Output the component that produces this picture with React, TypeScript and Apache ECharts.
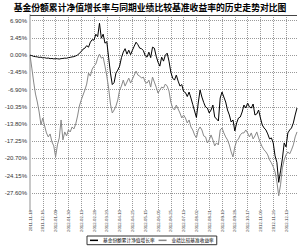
import React, { useEffect, useRef } from 'react';
import * as echarts from 'echarts';

const TITLE = '基金份额累计净值增长率与同期业绩比较基准收益率的历史走势对比图';
const SERIES_NAMES = ['基金份额累计净值增长率', '业绩比较基准收益率'];

// tick labels on the date axis, one every 14 trading days
const X_TICK_LABELS = [
  '2011-11-18', '2011-12-16', '2012-01-09', '2012-01-30', '2012-02-13', '2012-02-28',
  '2012-03-20', '2012-04-10', '2012-04-25', '2012-05-15', '2012-06-05', '2012-06-25',
  '2012-07-13', '2012-08-02', '2012-08-21', '2012-09-10', '2012-09-28', '2012-10-17',
  '2012-11-06', '2012-11-26', '2012-12-13',
];
const TRADING_DAYS_PER_TICK = 14;
const DAYS_PER_POINT = 2; // each value below is sampled every 2 trading days
const LAST_DAY = 292;

// value-axis tick labels (%)
const Y_TICKS = [-27.6, -24.15, -20.7, -17.25, -13.8, -10.35, -6.9, -3.45, 0, 3.45, 6.9];
const Y_MIN = -31.05;
const Y_MAX = 8.05;
const Y_INTERVAL = 3.45;

// 基金份额累计净值增长率 (%)
const fundGrowth = [
  0, -0.10, -0.25, -0.30, -0.35, -0.45, -0.40, -0.55, -0.50, -0.62,
  -0.58, -0.70, -0.66, -0.75, -0.70, -0.72, -0.78, -0.70, -0.66, -0.60,
  -0.62, -0.50, -0.45, -0.35, -0.30, -0.15, 0.00, 0.40, 0.70, 1.20,
  1.40, 1.90, 1.60, 2.60, 3.10, 3.00, 4.20, 3.70, 6.40, 3.40,
  4.20, 2.40, 2.70, -0.50, -3.60, -5.90, -5.50, -3.60, -3.00, -2.20,
  -0.50, 0.60, 1.30, 0.20, 1.00, 0.10, 1.00, 1.80, 2.60, 2.10,
  1.40, 1.30, 0.90, -0.10, -0.40, 0.60, -0.50, 1.60, 1.40, -0.20,
  -1.40, -2.20, -0.40, -1.20, 0.00, 0.40, -1.20, -3.40, -4.60, -5.00,
  -4.00, -5.20, -6.20, -5.90, -7.30, -7.50, -8.30, -7.40, -8.60, -9.90,
  -11.20, -12.50, -9.60, -7.00, -8.40, -9.50, -10.40, -10.60, -11.60, -11.00,
  -10.00, -12.40, -12.80, -13.20, -8.60, -7.40, -8.40, -9.40, -11.00, -12.00,
  -13.40, -13.00, -15.20, -13.60, -12.60, -12.40, -11.40, -10.00, -10.60, -9.60,
  -10.40, -10.60, -9.80, -12.00, -11.80, -11.00, -12.60, -14.00, -14.60, -15.00,
  -15.80, -16.80, -16.60, -17.60, -20.20, -21.50, -25.50, -23.20, -20.80, -17.60,
  -18.40, -15.60, -15.00, -14.60, -13.60, -12.00, -10.60,
];

// 业绩比较基准收益率 (%)
const benchmarkReturn = [
  0, -2.6, -5.4, -7.8, -9.4, -11.4, -14.0, -12.6, -14.2, -15.6,
  -16.4, -15.8, -17.4, -18.2, -20.4, -18.0, -16.6, -13.0, -17.0, -15.4,
  -16.2, -15.0, -15.4, -14.4, -14.8, -13.8, -12.2, -10.2, -9.0, -8.0,
  -7.0, -5.8, -3.6, -4.2, -2.8, -2.2, -1.8, -0.6, 0.2, -0.6,
  -0.4, -2.2, -4.2, -6.6, -9.8, -11.6, -11.0, -10.2, -9.0, -7.0,
  -6.2, -5.0, -6.2, -5.4, -4.6, -5.6, -4.8, -4.0, -3.2, -4.0,
  -4.2, -4.6, -4.4, -5.4, -5.6, -5.0, -6.4, -4.4, -5.4, -6.4,
  -7.6, -7.0, -6.4, -6.6, -5.8, -6.2, -7.2, -9.4, -10.6, -11.0,
  -10.0, -10.8, -11.6, -12.6, -12.0, -12.6, -13.6, -13.0, -14.4, -15.0,
  -16.0, -16.6, -15.0, -14.4, -15.0, -16.2, -16.4, -17.6, -17.0, -16.0,
  -17.0, -18.2, -17.6, -18.0, -15.0, -14.6, -15.6, -16.4, -17.0, -18.0,
  -19.4, -20.4, -18.4, -17.2, -16.8, -16.0, -15.6, -15.6, -15.0, -15.6,
  -16.4, -15.6, -16.8, -16.2, -15.4, -16.6, -17.6, -18.4, -19.0, -19.4,
  -20.0, -21.0, -21.6, -22.4, -23.4, -25.4, -28.2, -26.0, -22.6, -21.0,
  -20.0, -19.4, -19.8, -19.0, -18.0, -16.4, -15.4,
];

const gridLine = { type: 'dotted', color: '#9a9a9a', width: 1 };
const pct = (v: number) => v.toFixed(2) + '%';
const yLabelText = { fontSize: 6, color: '#333', fontFamily: 'Liberation Sans' };

export default function App() {
  const ref = useRef<HTMLDivElement>(null);

  useEffect(() => {
    if (!ref.current) return;
    const chart = echarts.init(ref.current, null, { renderer: 'svg' });
    const topTick = Y_TICKS[Y_TICKS.length - 1];
    chart.setOption({
      animation: false,
      backgroundColor: '#ffffff',
      title: {
        text: TITLE,
        left: 'center',
        top: 3,
        padding: 0,
        textStyle: { fontSize: 8.8, fontWeight: 'bold', color: '#000', fontFamily: 'Noto Sans CJK SC' },
      },
      legend: {
        data: SERIES_NAMES,
        left: 87,
        top: 236,
        padding: [2, 3],
        itemGap: 4,
        itemWidth: 8,
        itemHeight: 1.5,
        icon: 'rect',
        borderColor: '#333',
        borderWidth: 1,
        backgroundColor: '#fff',
        textStyle: { fontSize: 4.7, color: '#000', fontFamily: 'Noto Sans CJK SC' },
      },
      grid: { left: 30, right: 3, top: 15, bottom: 37, containLabel: false },
      xAxis: {
        type: 'value',
        min: 0,
        max: LAST_DAY,
        interval: TRADING_DAYS_PER_TICK,
        axisLine: { show: false, onZero: false },
        axisTick: { show: false },
        splitLine: { show: true, showMinLine: false, showMaxLine: false, lineStyle: gridLine },
        axisLabel: {
          rotate: 90,
          fontSize: 4.3,
          color: '#333',
          margin: 0,
          fontFamily: 'Liberation Sans',
          showMinLabel: true,
          showMaxLabel: false,
          hideOverlap: false,
          formatter: (v: number) => {
            const i = Math.round(v / TRADING_DAYS_PER_TICK);
            if (Math.abs(i * TRADING_DAYS_PER_TICK - v) > 1e-6) return '';
            return X_TICK_LABELS[i] ?? '';
          },
        },
      },
      yAxis: {
        type: 'value',
        min: Y_MIN,
        max: Y_MAX,
        interval: Y_INTERVAL,
        axisLine: { show: true, onZero: false, lineStyle: { color: '#c8c8c8', width: 2 } },
        axisTick: { show: false, customValues: Y_TICKS },
        splitLine: { show: true, lineStyle: gridLine },
        axisLabel: {
          customValues: Y_TICKS,
          margin: 3,
          hideOverlap: false,
          showMinLabel: true,
          showMaxLabel: true,
          formatter: pct,
          ...yLabelText,
        },
      },
      series: [
        {
          name: SERIES_NAMES[0],
          type: 'line',
          data: fundGrowth.map((v, i) => [i * DAYS_PER_POINT, v]),
          symbol: 'none',
          showSymbol: false,
          lineStyle: { color: '#000', width: 1 },
          itemStyle: { color: '#000' },
          z: 4,
          markLine: {
            silent: true,
            symbol: 'none',
            animation: false,
            data: [
              {
                yAxis: Y_MAX,
                label: { show: false },
                lineStyle: { type: 'solid', color: '#444', width: 1 },
              },
              {
                yAxis: topTick,
                lineStyle: { opacity: 0 },
                label: {
                  show: true,
                  position: 'start',
                  distance: 3,
                  formatter: () => pct(topTick),
                  ...yLabelText,
                },
              },
            ],
          },
        },
        {
          name: SERIES_NAMES[1],
          type: 'line',
          data: benchmarkReturn.map((v, i) => [i * DAYS_PER_POINT, v]),
          symbol: 'none',
          showSymbol: false,
          lineStyle: { color: '#888', width: 1 },
          itemStyle: { color: '#888' },
          z: 3,
        },
      ],
    });
    return () => chart.dispose();
  }, []);

  return (
    <div
      ref={ref}
      style={{ position: 'fixed', left: 0, top: 0, width: 300, height: 247 }}
    />
  );
}
